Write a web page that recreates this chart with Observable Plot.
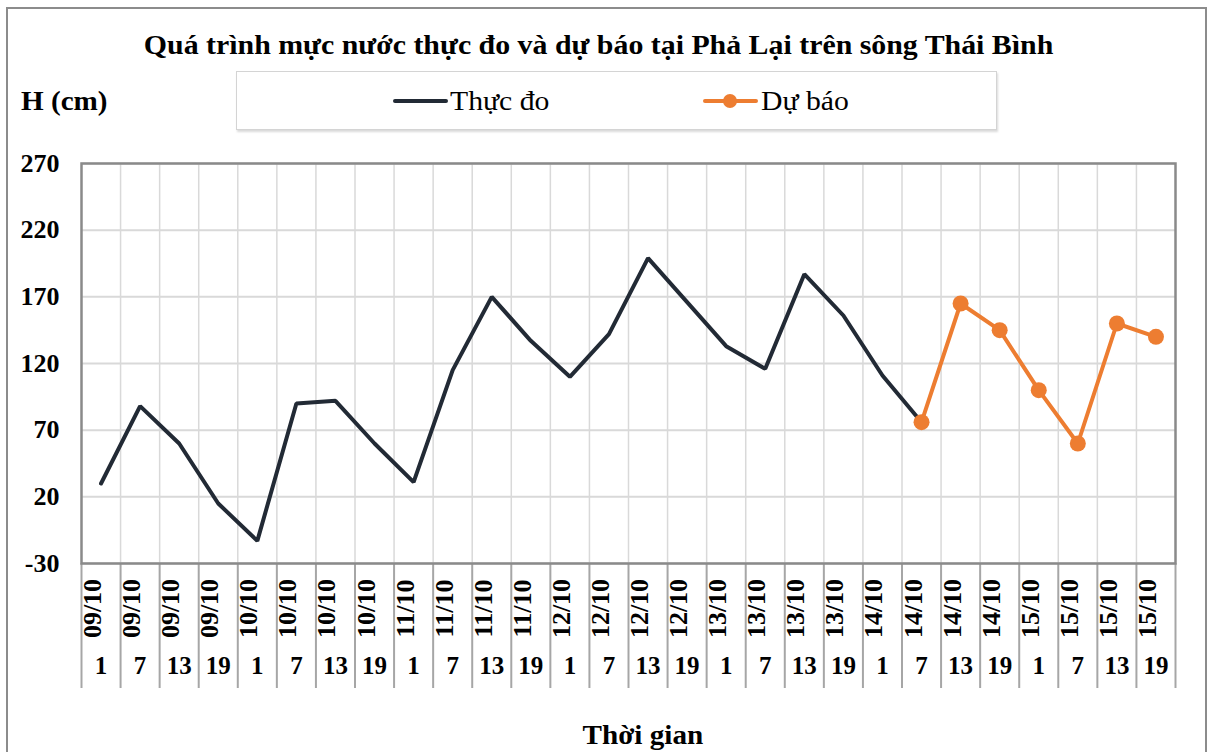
<!DOCTYPE html>
<html>
<head>
<meta charset="utf-8">
<script src="https://cdn.jsdelivr.net/npm/d3@7"></script>
<script src="https://cdn.jsdelivr.net/npm/@observablehq/plot@0.6"></script>
<style>
  html, body { margin: 0; padding: 0; background: #fff; }
  #wrap { position: relative; width: 1214px; height: 752px; overflow: hidden; background: #fff; }
  #wrap, #wrap div, #wrap span { font-family: "Liberation Serif", "Times New Roman", serif; color: #000; }
  #border { position: absolute; left: 6px; top: 7px; width: 1201px; height: 800px; border: 2px solid #8c8c8c; box-sizing: border-box; }
  .t { position: absolute; line-height: 1; white-space: nowrap; }
  .t span { display: inline-block; }
  #title { left: 0; width: 1197px; top: 31px; text-align: center; font-weight: bold; font-size: 28px; }
  #title span { transform: scaleX(1.066); transform-origin: center; }
  #ylab { left: 21px; top: 86.5px; font-weight: bold; font-size: 28px; }
  #ylab span { transform: scaleX(1.04); transform-origin: left; }
  #legend { position: absolute; left: 236px; top: 71px; width: 761px; height: 59px; box-sizing: border-box; border: 1.5px solid #d4d4d4; box-shadow: 1px 2px 2px rgba(0,0,0,0.15); background: #fff; }
  .lt { top: 88.4px; font-size: 27px; font-weight: normal; }
  .lt span { transform: scaleX(1.1); transform-origin: left; }
  #xlab { left: 0; width: 1286px; text-align: center; top: 722px; font-weight: bold; font-size: 27px; }
  #xlab span { transform: scaleX(1.08); transform-origin: center; }
  #chart { position: absolute; left: 0; top: 0; }
  #swatch { position: absolute; left: 0; top: 0; }
</style>
</head>
<body>
<div id="wrap">
  <div id="border"></div>
  <div id="legend"></div>
  <div id="chart"></div>
  <div class="t" id="title"><span></span></div>
  <div class="t" id="ylab"><span></span></div>
  <div class="t" id="xlab"><span></span></div>
  <svg id="swatch" width="1214" height="140"></svg>
  <div class="t lt" id="leg0" style="left:450px"><span></span></div>
  <div class="t lt" id="leg1" style="left:761px"><span></span></div>
</div>
<script>
// ---- Data ----
const titleText = "Quá trình mực nước thực đo và dự báo tại Phả Lại trên sông Thái Bình";
const yAxisTitle = "H (cm)";
const xAxisTitle = "Thời gian";
const seriesNames = ["Thực đo", "Dự báo"];
const seriesColors = ["#222a35", "#ed7d31"];
const days = ["09/10", "10/10", "11/10", "12/10", "13/10", "14/10", "15/10"];
const hours = [1, 7, 13, 19];
const yTicks = [-30, 20, 70, 120, 170, 220, 270];
// Thực đo: from 09/10 1h to 14/10 7h
const observed = [30, 88, 60, 15, -13, 90, 92, 60, 31, 115, 170, 137, 110, 142, 199, 166, 133, 116, 187, 156, 111, 76];
// Dự báo: from 14/10 7h to 15/10 19h
const forecast = [76, 165, 145, 100, 60, 150, 140];
const forecastStart = 21;

// ---- Build tables ----
const cats = days.flatMap(d => hours.map(h => ({date: d, hour: h})));
cats.forEach((c, i) => c.i = i);
const obsData = observed.map((v, k) => ({i: k, v}));
const fcData = forecast.map((v, k) => ({i: forecastStart + k, v}));
const inner = d3.range(cats.length - 1).map(i => i + 0.5);
const allBounds = d3.range(cats.length + 1).map(i => i - 0.5);

document.querySelector("#title span").textContent = titleText;
document.querySelector("#ylab span").textContent = yAxisTitle;
document.querySelector("#xlab span").textContent = xAxisTitle;
document.querySelector("#leg0 span").textContent = seriesNames[0];
document.querySelector("#leg1 span").textContent = seriesNames[1];

// legend swatches
document.getElementById("swatch").innerHTML = `
  <line x1="395" x2="446" y1="101" y2="101" stroke="${seriesColors[0]}" stroke-width="4" stroke-linecap="round"/>
  <line x1="705" x2="756" y1="101" y2="101" stroke="${seriesColors[1]}" stroke-width="4" stroke-linecap="round"/>
  <circle cx="730" cy="101" r="7" fill="${seriesColors[1]}"/>`;

const W = 1214, H = 752, mL = 81, mR = 39, mT = 163, mB = 189;
const plotH = H - mT - mB;

const plot = Plot.plot({
  width: W,
  height: H,
  marginLeft: mL,
  marginRight: mR,
  marginTop: mT,
  marginBottom: mB,
  style: {background: "transparent", fontFamily: "'Liberation Serif', 'Times New Roman', serif", fontWeight: "bold", fontSize: "24px", color: "#000"},
  x: {domain: [-0.5, cats.length - 0.5], axis: null},
  y: {domain: [yTicks[0], yTicks[yTicks.length - 1]], axis: null},
  marks: [
    Plot.ruleY(yTicks, {stroke: "#d9d9d9", strokeWidth: 2}),
    Plot.ruleX(inner, {stroke: "#d9d9d9", strokeWidth: 1.5}),
    Plot.ruleX(allBounds, {stroke: "#a6a6a6", strokeWidth: 2, insetTop: plotH, insetBottom: -125}),
    Plot.frame({stroke: "#8a8a8a", strokeWidth: 2.5}),
    Plot.line(obsData, {x: "i", y: "v", stroke: seriesColors[0], strokeWidth: 4, strokeLinejoin: "miter"}),
    Plot.line(fcData, {x: "i", y: "v", stroke: seriesColors[1], strokeWidth: 4}),
    Plot.dot(fcData, {x: "i", y: "v", r: 8, fill: seriesColors[1]}),
    Plot.text(yTicks, {y: d => d, frameAnchor: "left", text: d => String(d), textAnchor: "end", dx: -22, fontSize: 26, fontWeight: "bold", fill: "#000"}),
    Plot.text(cats, {x: "i", frameAnchor: "bottom", text: "date", rotate: -90, dy: 45, fontSize: 26, fontWeight: "bold", fill: "#000"}),
    Plot.text(cats, {x: "i", frameAnchor: "bottom", text: d => String(d.hour), dy: 110, fontSize: 25, fontWeight: "bold", fill: "#000"})
  ]
});
document.getElementById("chart").appendChild(plot);
</script>
</body>
</html>
